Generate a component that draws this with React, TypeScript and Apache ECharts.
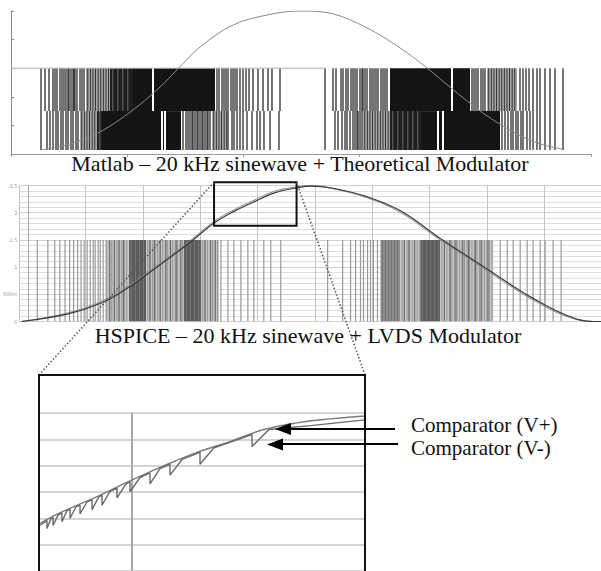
import React, { useEffect, useRef } from "react";
import * as echarts from "echarts";

// ---------------- Top panel: Matlab (x in samples, y in arbitrary levels) ----------------
const matlabSine: number[][] = [
  [30, 0.14], [59, 0.35], [89, 0.77], [122, 1.54], [149, 2.34], [166, 2.94], [189, 3.74],
  [222, 4.51], [256, 4.86], [289, 5.0], [322, 4.9], [356, 4.41], [389, 3.71], [416, 3.01],
  [439, 2.34], [472, 1.43], [506, 0.7], [529, 0.35], [552, 0.17],
];
const matlabLevelLine: number[][] = [[0, 3], [314, 3]];
const matlabUpperRange = [1.5, 3];
const matlabLowerRange = [0.14, 1.5];
// single pulses (sample positions)
const matlabUpperLines = [
  30, 34, 38, 42, 44, 46, 49, 51, 53, 55, 57, 58, 60, 62, 63, 64, 66, 69, 71, 73,
  206, 208, 211, 213, 215, 217, 220, 222, 224, 226, 229, 232, 235, 238, 242, 247, 252, 257, 261, 269,
  314, 322, 325, 330, 332, 335, 337, 340, 342, 344, 346, 349, 351, 352, 354, 356, 359, 361, 363, 365, 367, 370, 372, 374, 376,
  461, 463, 465, 467, 470, 472, 474,
  509, 512, 515, 518, 522, 526, 529, 534, 539, 544, 552,
];
// dense pulse regions [start, end, shade] (0 black, 1 dark, 2 grey)
const matlabUpperBlocks = [
  [75, 99, 2], [99, 122, 1], [122, 141, 0], [143, 204, 0],
  [379, 440, 0], [442, 459, 0], [476, 506, 2],
];
const matlabLowerLines = [
  30, 36, 39, 42, 45, 47, 50, 52, 55, 57, 60, 62, 65, 67,
  172, 175, 177, 179, 181, 182, 184, 186, 187, 189, 191, 192, 194, 196, 197, 199,
  217, 221, 223, 226, 229, 232, 236, 241, 246, 249, 253, 259, 268,
  314, 324, 327, 331, 334, 336, 339, 342, 344, 346, 347, 349, 351,
  491, 494, 497, 500, 502, 505, 507, 510, 512, 516, 519, 522, 526, 529, 534, 539, 544, 552,
];
const matlabLowerBlocks = [
  [69, 86, 2], [86, 91, 1], [91, 150, 0], [152, 153, 0], [155, 170, 0], [201, 216, 2],
  [352, 379, 2], [379, 411, 1], [411, 426, 0], [428, 431, 0], [433, 489, 0],
];

// ---------------- Middle panel: HSPICE (x in µs, y in V) ----------------
const hspiceYLabels: Record<string, string> = { "0": "0", "0.5": "500m", "1": "1", "1.5": "1.5", "2": "2", "2.5": "2.5" };
const hspiceVPlus: number[][] = [
  [-0.6, 0.0], [3.48, 0.16], [6.35, 0.37], [8.7, 0.65], [10.7, 0.95], [12.7, 1.26], [14.2, 1.5],
  [16.2, 1.84], [17.9, 2.05], [19.7, 2.23], [21.4, 2.39], [23.5, 2.48], [24.6, 2.5], [26.6, 2.44],
  [29.6, 2.27], [32.5, 2.0], [35.9, 1.5], [38.3, 1.17], [41.2, 0.77], [44.0, 0.4], [47.0, 0.09],
  [49.3, 0.0], [49.96, 0.0],
];
const hspiceVMinus: number[][] = [
  [-0.6, 0.0], [3.48, 0.14], [6.35, 0.34], [8.7, 0.62], [10.7, 0.92], [12.7, 1.23], [14.2, 1.47],
  [16.2, 1.81], [17.9, 2.02], [19.7, 2.2], [21.4, 2.36], [23.5, 2.46], [24.6, 2.49], [26.6, 2.45],
  [29.6, 2.29], [32.5, 2.03], [35.9, 1.53], [38.3, 1.2], [41.2, 0.8], [44.0, 0.43], [47.0, 0.11],
  [49.3, 0.0], [49.96, 0.0],
];
const hspiceBitRange = [0, 1.5];
const hspiceLines = [
  0.78, 1.7, 2.3, 2.75, 3.2, 3.6, 3.95, 4.3, 4.6, 4.87, 5.13, 5.4, 5.66, 5.83, 6.09, 6.27, 6.53,
  16.8, 17.41, 17.93, 18.54, 19.15, 19.67, 20.54, 21.15, 22.02,
  26.11, 27.42, 28.11, 28.55, 28.98, 29.24, 29.59, 29.85, 30.11, 30.46,
  41.17, 41.78, 42.3, 42.91, 43.52, 44.04, 44.65, 45.08, 45.78, 46.48,
];
// [start, end, shade] (0 dark, 1 mid, 2 light)
const hspiceBlocks = [
  [6.7, 8.79, 2], [8.79, 10.27, 0], [10.27, 13.58, 2], [13.58, 15.06, 0], [15.06, 16.63, 2],
  [30.72, 32.46, 1], [32.46, 34.2, 2], [34.2, 35.94, 0], [35.94, 40.56, 2],
];
const hspiceDenseLines = [
  7.1, 7.5, 7.9, 8.3, 10.6, 11.0, 11.5, 12.0, 12.4, 12.9, 13.3, 15.4, 15.9, 16.3,
  32.8, 33.2, 33.7, 36.3, 36.8, 37.3, 37.9, 38.4, 39.0, 39.5, 40.1,
];
const zoomBox = { t0: 16.2, t1: 23.4, v0: 1.76, v1: 2.56 };

// ---------------- Inset: zoom on comparator inputs ----------------
const insetVPlus: number[][] = [
  [18.318, 2.0813], [18.742, 2.1262], [19.368, 2.1822], [19.975, 2.2421], [20.582, 2.2981],
  [21.208, 2.3505], [21.816, 2.3916], [22.423, 2.4364], [23.049, 2.4626], [23.656, 2.4776], [24.3, 2.4888],
];
const insetVMinus: number[][] = [
  [18.318, 2.0738],
  [18.447, 2.0914], [18.447, 2.0615], [18.521, 2.0989],
  [18.558, 2.1026], [18.558, 2.0727], [18.65, 2.1123],
  [18.723, 2.1206], [18.723, 2.0869], [18.815, 2.1292],
  [18.871, 2.134], [18.871, 2.1004], [18.981, 2.1437],
  [19.055, 2.1505], [19.055, 2.1168], [19.183, 2.1621],
  [19.276, 2.1703], [19.276, 2.1329], [19.404, 2.1822],
  [19.46, 2.1875], [19.46, 2.1501], [19.607, 2.2021],
  [19.736, 2.2148], [19.736, 2.1774], [19.901, 2.2312],
  [19.975, 2.2383], [19.975, 2.2009], [20.159, 2.2551],
  [20.343, 2.2723], [20.343, 2.2312], [20.527, 2.2892],
  [20.711, 2.3052], [20.711, 2.2641], [20.932, 2.3236],
  [21.263, 2.3505], [21.263, 2.3056], [21.521, 2.368],
  [22.22, 2.4178], [22.22, 2.3729], [22.533, 2.4372],
  [23.3, 2.452], [24.3, 2.4738],
];

const captionTop = "Matlab – 20 kHz sinewave + Theoretical Modulator";
const captionMid = "HSPICE – 20 kHz sinewave + LVDS Modulator";
const labelPlus = "Comparator (V+)";
const labelMinus = "Comparator (V-)";

const SERIF = '"Liberation Serif", "Times New Roman", serif';

function buildBits(lines: number[], blocks: number[][], range: number[]) {
  const out: number[][] = [];
  blocks.forEach((b) => out.push([b[0], b[1], range[0], range[1], b[2]]));
  lines.forEach((x) => out.push([x, x, range[0], range[1], -1]));
  return out;
}

// palette entries: [fill, stripeColor | null, stripeStep, stripeWidth]
type Shade = [string, string | null, number, number];

function makeRender(palette: Shade[], lineColor: string, lineW: number) {
  return (_params: any, api: any) => {
    const a = api.value(0);
    const b = api.value(1);
    const lo = api.value(2);
    const hi = api.value(3);
    const s = api.value(4);
    const p0 = api.coord([a, hi]);
    const p1 = api.coord([b, lo]);
    const h = p1[1] - p0[1];
    if (s < 0) {
      return {
        type: "rect",
        shape: { x: p0[0] - lineW / 2, y: p0[1], width: lineW, height: h },
        style: { fill: lineColor },
      };
    }
    const [fill, stripe, step, sw] = palette[s];
    const w = Math.max(p1[0] - p0[0], 1);
    const children: any[] = [
      { type: "rect", shape: { x: p0[0], y: p0[1], width: w, height: h }, style: { fill } },
    ];
    if (stripe) {
      for (let x = p0[0] + step / 2; x < p0[0] + w - 0.5; x += step) {
        children.push({ type: "rect", shape: { x, y: p0[1], width: sw, height: h }, style: { fill: stripe } });
      }
    }
    return { type: "group", children };
  };
}

export default function App() {
  const ref = useRef<HTMLDivElement>(null);
  useEffect(() => {
    if (!ref.current) return;
    const chart = echarts.init(ref.current, undefined, { renderer: "svg" });
    const matlabBits = [
      ...buildBits(matlabUpperLines, matlabUpperBlocks, matlabUpperRange),
      ...buildBits(matlabLowerLines, matlabLowerBlocks, matlabLowerRange),
    ];
    const hspiceBits = [
      ...buildBits([], hspiceBlocks, hspiceBitRange),
      ...buildBits(hspiceDenseLines, [], hspiceBitRange).map((d) => [d[0], d[1], d[2], d[3], 3]),
      ...buildBits(hspiceLines, [], hspiceBitRange),
    ];
    const matlabPalette: Shade[] = [
      ["#141414", null, 0, 0],
      ["#1e1e1e", "#8a8a8a", 5, 0.7],
      ["#a6a6a6", "#2a2a2a", 2.6, 0.9],
    ];
    const hspicePalette: Shade[] = [
      ["#5c5c5c", "#7a7a7a", 4, 0.8],
      ["#8e8e8e", "#6a6a6a", 3, 0.8],
      ["#c6c6c6", "#8c8c8c", 2.5, 0.8],
      ["#6e6e6e", null, 0, 0],
    ];
    const hspiceRender = (params: any, api: any) => {
      const s = api.value(4);
      if (s === 3) {
        const p0 = api.coord([api.value(0), api.value(3)]);
        const p1 = api.coord([api.value(0), api.value(2)]);
        return { type: "rect", shape: { x: p0[0] - 0.6, y: p0[1], width: 1.2, height: p1[1] - p0[1] }, style: { fill: "#6e6e6e" } };
      }
      return makeRender(hspicePalette, "#9a9a9a", 1.2)(params, api);
    };

    chart.setOption({
      animation: false,
      backgroundColor: "#ffffff",
      grid: [
        { left: 11, top: 11, width: 580, height: 143 },
        { left: 18, top: 185.5, width: 583, height: 136 },
        { left: 39, top: 413, width: 326, height: 160.5 },
      ],
      xAxis: [
        {
          gridIndex: 0, type: "value", position: "top", min: 0, max: 580, interval: 116,
          axisLine: { show: true, lineStyle: { color: "#9c9c9c", width: 1 } },
          axisTick: { show: true, inside: true, length: 3, lineStyle: { color: "#9c9c9c" } },
          axisLabel: { show: false }, splitLine: { show: false },
        },
        {
          gridIndex: 1, type: "value", min: -0.78, max: 49.96, minInterval: 5, maxInterval: 5,
          axisLine: { show: false }, axisTick: { show: false }, axisLabel: { show: false },
          splitLine: { show: true, lineStyle: { color: "#c4c4c4", width: 1 } },
        },
        {
          gridIndex: 2, type: "value", min: 18.3, max: 24.3, minInterval: 5, maxInterval: 5,
          axisLine: { show: false }, axisTick: { show: false }, axisLabel: { show: false },
          splitLine: { show: true, lineStyle: { color: "#a8a8a8", width: 2 } },
        },
      ],
      yAxis: [
        {
          gridIndex: 0, type: "value", min: 0, max: 5, interval: 1,
          axisLine: { show: true, lineStyle: { color: "#8c8c8c", width: 1 } },
          axisTick: { show: true, inside: true, length: 3, lineStyle: { color: "#8c8c8c" } },
          axisLabel: { show: false }, splitLine: { show: false },
        },
        {
          gridIndex: 1, type: "value", min: 0, max: 2.5, interval: 0.5,
          axisLine: { show: true, lineStyle: { color: "#a8a8a8", width: 1 } },
          axisTick: { show: false },
          axisLabel: {
            show: true, fontSize: 5, color: "#9a9a9a", margin: 2, fontFamily: "DejaVu Sans",
            formatter: (v: number) => hspiceYLabels[String(v)] ?? String(v),
          },
          splitLine: { show: true, lineStyle: { color: "#d0d0d0", width: 1 } },
          minorTick: { show: false, splitNumber: 5 },
          minorSplitLine: { show: true, lineStyle: { color: "#dedede", width: 1 } },
        },
        {
          gridIndex: 2, type: "value", min: 1.9, max: 2.5, interval: 0.1,
          axisLine: { show: false }, axisTick: { show: false }, axisLabel: { show: false },
          splitLine: { show: true, lineStyle: { color: "#d4d4d4", width: 2 } },
        },
      ],
      series: [
        {
          type: "custom", xAxisIndex: 0, yAxisIndex: 0, silent: true, clip: true,
          renderItem: makeRender(matlabPalette, "#1a1a1a", 1.2),
          data: matlabBits, encode: { x: [0, 1], y: [2, 3] }, z: 2,
        },
        {
          type: "line", xAxisIndex: 0, yAxisIndex: 0, data: matlabLevelLine, symbol: "none", silent: true,
          lineStyle: { color: "#b0b0b0", width: 1 }, z: 3,
        },
        {
          type: "line", xAxisIndex: 0, yAxisIndex: 0, data: matlabSine, symbol: "none", smooth: 0.35, silent: true,
          lineStyle: { color: "#8a8a8a", width: 1 }, z: 4,
        },
        {
          type: "custom", xAxisIndex: 1, yAxisIndex: 1, silent: true, clip: true,
          renderItem: hspiceRender, data: hspiceBits, encode: { x: [0, 1], y: [2, 3] }, z: 2,
        },
        {
          type: "line", xAxisIndex: 1, yAxisIndex: 1, data: hspiceVPlus, symbol: "none", smooth: 0.4, silent: true,
          lineStyle: { color: "#8a8a8a", width: 1 }, z: 4,
        },
        {
          type: "line", xAxisIndex: 1, yAxisIndex: 1, data: hspiceVMinus, symbol: "none", smooth: 0.4, silent: true,
          lineStyle: { color: "#383838", width: 1.2 }, z: 5,
        },
        {
          type: "line", xAxisIndex: 2, yAxisIndex: 2, data: insetVPlus, symbol: "none", smooth: 0.4, silent: true,
          lineStyle: { color: "#7a7a7a", width: 1.4 }, z: 4,
        },
        {
          type: "line", xAxisIndex: 2, yAxisIndex: 2, data: insetVMinus, symbol: "none", silent: true,
          lineStyle: { color: "#6a6a6a", width: 1.4 }, z: 5,
        },
      ],
    });

    const tl = chart.convertToPixel({ gridIndex: 1 }, [zoomBox.t0, zoomBox.v1]) as number[];
    const br = chart.convertToPixel({ gridIndex: 1 }, [zoomBox.t1, zoomBox.v0]) as number[];
    const insetL = chart.convertToPixel({ gridIndex: 2 }, [18.3, 2.5]) as number[];
    const insetR = chart.convertToPixel({ gridIndex: 2 }, [24.3, 2.5]) as number[];
    const insetTop = 375;

    const text = (t: string, x: number, y: number, align: string, size: number) => ({
      type: "text", x, y, z: 100,
      style: {
        text: t, font: `${size}px ${SERIF}`, fill: "#111",
        textAlign: align, textVerticalAlign: "middle", align, verticalAlign: "middle",
      },
    });

    chart.setOption({
      graphic: [
        {
          type: "rect", z: 100,
          shape: { x: tl[0], y: tl[1], width: br[0] - tl[0], height: br[1] - tl[1] },
          style: { fill: "none", stroke: "#111", lineWidth: 2 },
        },
        {
          type: "line", z: 100,
          shape: { x1: tl[0], y1: tl[1], x2: insetL[0], y2: insetTop },
          style: { stroke: "#555", lineWidth: 1.5, lineDash: [1.5, 2] },
        },
        {
          type: "line", z: 100,
          shape: { x1: br[0], y1: tl[1], x2: insetR[0], y2: insetTop },
          style: { stroke: "#555", lineWidth: 1.5, lineDash: [1.5, 2] },
        },
        {
          type: "rect", z: 100,
          shape: { x: insetL[0], y: insetTop, width: insetR[0] - insetL[0], height: 220 },
          style: { fill: "none", stroke: "#111", lineWidth: 2 },
        },
        { type: "line", z: 100, shape: { x1: 395, y1: 429, x2: 286, y2: 429 }, style: { stroke: "#000", lineWidth: 2 } },
        { type: "polygon", z: 100, shape: { points: [[275, 429], [291, 423], [291, 435]] }, style: { fill: "#000" } },
        { type: "line", z: 100, shape: { x1: 398, y1: 444, x2: 278, y2: 444 }, style: { stroke: "#000", lineWidth: 2 } },
        { type: "polygon", z: 100, shape: { points: [[267, 444.5], [283, 438.5], [283, 450.5]] }, style: { fill: "#000" } },
        text(labelPlus, 411, 425, "left", 21),
        text(labelMinus, 411, 448, "left", 21),
        text(captionTop, 300, 163, "center", 22),
        text(captionMid, 308, 335, "center", 22),
      ],
    });

    return () => chart.dispose();
  }, []);
  return (
    <div
      ref={ref}
      style={{ position: "fixed", left: 0, top: 0, width: 601, height: 571, background: "#fff" }}
    />
  );
}
